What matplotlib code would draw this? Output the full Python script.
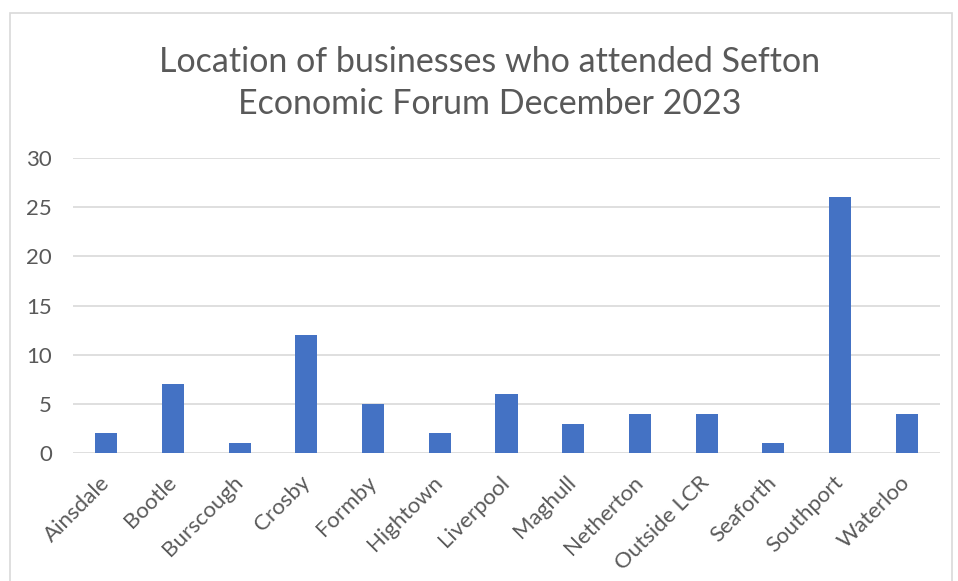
import matplotlib.pyplot as plt
from matplotlib.patches import Rectangle

locations = ['Ainsdale', 'Bootle', 'Burscough', 'Crosby', 'Formby', 'Hightown',
             'Liverpool', 'Maghull', 'Netherton', 'Outside LCR', 'Seaforth',
             'Southport', 'Waterloo']
counts = [2, 7, 1, 12, 5, 2, 6, 3, 4, 4, 1, 26, 4]
y_ticks = [0, 5, 10, 15, 20, 25, 30]

title = 'Location of businesses who attended Sefton\nEconomic Forum December 2023'

plt.rcParams['font.family'] = ['Lato', 'DejaVu Sans']
text_col = '#595959'
grid_col = '#d9d9d9'

fig = plt.figure(figsize=(9.58, 5.81), dpi=100)
ax = fig.add_axes([73 / 958, 1 - 453 / 581, 867 / 958, 295 / 581])

x = list(range(len(locations)))
ax.bar(x, counts, width=0.33, color='#4472c4', zorder=3)

ax.set_xlim(-0.5, len(locations) - 0.5)
ax.set_ylim(0, 30)
ax.set_yticks(y_ticks)
ax.set_xticks(x)
ax.set_xticklabels(locations, rotation=45, ha='right', va='center',
                   rotation_mode='anchor')
ax.tick_params(axis='both', length=0, labelsize=16, colors=text_col)
ax.tick_params(axis='y', pad=15)
ax.tick_params(axis='x', pad=19)
ax.grid(axis='y', color=grid_col, linewidth=1.2, zorder=0)
for s in ax.spines.values():
    s.set_visible(False)

fig.text(0.511, 1 - 83 / 581, title, ha='center', va='center', fontsize=24.5,
         color=text_col, linespacing=1.4)

# chart border
fig.patches.append(Rectangle((10 / 958, -0.01), 942 / 958, 1 - 13 / 581 + 0.01,
                             transform=fig.transFigure, fill=False,
                             edgecolor=grid_col, linewidth=1.2))

fig.savefig('out.png', dpi=100)
